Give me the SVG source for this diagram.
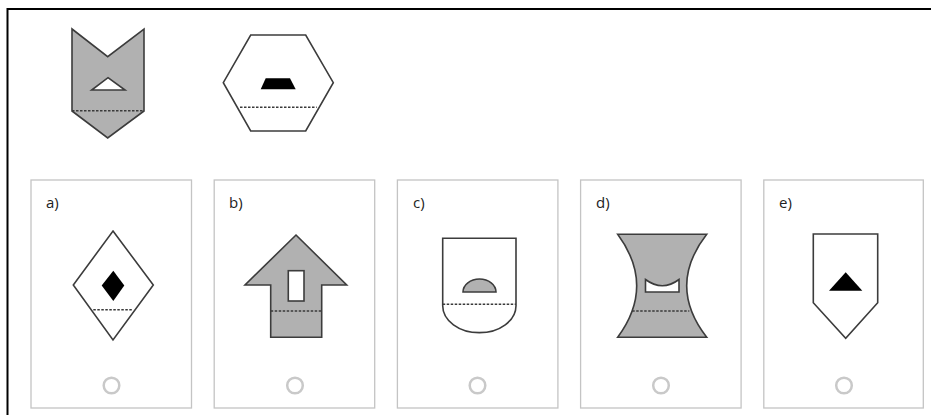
<svg xmlns="http://www.w3.org/2000/svg" width="931" height="415" viewBox="0 0 931 415">
<style>
.panel{fill:#fff;stroke:#c4c4c4;stroke-width:1.3}
.shp{stroke:#3c3c3c;stroke-width:1.6;stroke-linejoin:miter}
.gray{fill:#b1b1b1}
.white{fill:#fff}
.black{fill:#000}
.dash{fill:none;stroke:#3a3a3a;stroke-width:1.5;stroke-dasharray:2.5 1.5}
.radio{fill:none;stroke:#c9c9c9;stroke-width:2.5}
.lbl{font-family:"Open Sans","Liberation Sans",sans-serif;font-size:15px;fill:#222}
</style>
<rect width="931" height="415" fill="#fff"/>
<path d="M7.5,415 L7.5,9 L931,9" fill="none" stroke="#000" stroke-width="2"/>

<g id="question1">
<path class="shp gray" d="M72,29 L107.7,56.7 L144,29 L144,111 L107.7,138 L72,111 Z"/>
<path class="dash" d="M72,110.7 L144,110.7"/>
<path class="shp white" stroke-width="1.4" d="M108,77.7 L125,90 L91.7,90 Z"/>
</g>

<g id="question2">
<path class="shp white" d="M250.7,35 L305.7,35 L333.3,82.7 L305.7,131 L250.7,131 L223.3,82.7 Z"/>
<path class="dash" d="M240,107.3 L316.7,107.3"/>
<path class="black" d="M265.7,78.3 L290,78.3 L295.7,89.3 L260.7,89.3 Z"/>
</g>

<g id="option-a">
<rect class="panel" x="31" y="180" width="160.5" height="228"/>
<text class="lbl" x="46" y="207.5">a)</text>
<path class="shp white" d="M113,231 L153.3,285 L113,340 L73.3,285 Z"/>
<path class="dash" d="M93.3,309.7 L133.3,309.7"/>
<path class="black" d="M113.3,270.7 L124.3,285.5 L113.3,301 L101.7,285.5 Z"/>
<circle class="radio" cx="111.5" cy="385.5" r="7.8"/>
</g>

<g id="option-b">
<rect class="panel" x="214.2" y="180" width="160.5" height="228"/>
<text class="lbl" x="229" y="207.5">b)</text>
<path class="shp gray" d="M296,235 L346.7,285 L321.7,285 L321.7,337.3 L270.7,337.3 L270.7,285 L245,285 Z"/>
<path class="dash" d="M270.7,311 L321.7,311"/>
<rect class="shp white" x="288.3" y="270.7" width="15.7" height="30.3"/>
<circle class="radio" cx="295" cy="385.5" r="7.8"/>
</g>

<g id="option-c">
<rect class="panel" x="397.4" y="180" width="160.5" height="228"/>
<text class="lbl" x="413" y="207.5">c)</text>
<path class="shp white" d="M442.7,238.3 L516,238.3 L516,305.7 A36.65,27 0 0 1 442.7,305.7 Z"/>
<path class="dash" d="M442.7,304.3 L516,304.3"/>
<path class="shp gray" stroke-width="1.4" d="M463,292 A16.5,13 0 0 1 496,292 Z"/>
<circle class="radio" cx="477.5" cy="385.5" r="7.8"/>
</g>

<g id="option-d">
<rect class="panel" x="580.6" y="180" width="160.5" height="228"/>
<text class="lbl" x="596" y="207.5">d)</text>
<path class="shp gray" d="M617.7,234.3 L706.7,234.3 Q666.7,285.8 706.7,337.3 L617.7,337.3 Q655.7,285.8 617.7,234.3 Z"/>
<path class="dash" d="M632.2,311 L689.3,311"/>
<path class="shp white" stroke-width="1.4" d="M645.5,279.5 Q662.3,292 679,279.5 L679,292 L645.5,292 Z"/>
<circle class="radio" cx="661" cy="385.5" r="7.8"/>
</g>

<g id="option-e">
<rect class="panel" x="763.8" y="180" width="159.5" height="228"/>
<text class="lbl" x="779" y="207.5">e)</text>
<path class="shp white" d="M813.3,234 L877.7,234 L877.7,302.7 L845.7,338.3 L813.3,302.7 Z"/>
<path class="black" d="M845.7,272.3 L862.3,290.7 L829,290.7 Z"/>
<circle class="radio" cx="844" cy="385.5" r="7.8"/>
</g>

<g id="connectors"></g>
</svg>
